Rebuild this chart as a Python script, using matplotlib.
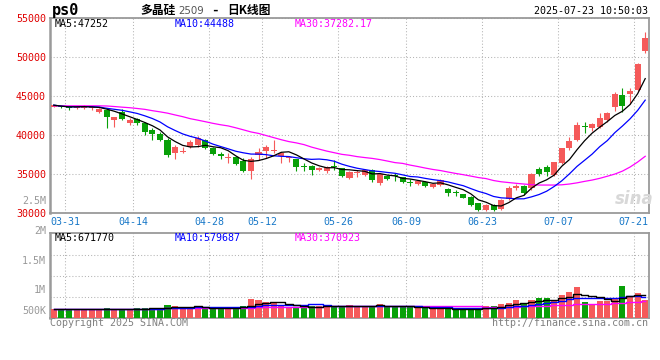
import numpy as np
import pandas as pd
import matplotlib
matplotlib.use('Agg')
import matplotlib.pyplot as plt

plt.rcParams['font.family'] = ['DejaVu Sans Mono', 'Noto Sans CJK SC']

# trading days shown on the chart (03-28 .. 07-23)
holidays = ['2025-04-04', '2025-05-01', '2025-05-02', '2025-05-05', '2025-06-02']
days = pd.bdate_range('2025-03-28', '2025-07-23')
days = days[~days.isin(pd.to_datetime(holidays))]
dates = list(days.strftime('%m-%d'))

opens = [43630, 43760, 43590, 43420, 43420, 43420, 42990, 43200, 41920, 42950,
         41600, 42050, 41500, 40680, 40170, 39360, 37730, 37860, 38420, 38720,
         39360, 38290, 37530, 37090, 37220, 36700, 35420, 37440, 37950, 37990,
         37350, 37010, 36880, 35940, 36030, 35510, 35420, 36060, 35730, 34450,
         35170, 34870, 35510, 33810, 34740, 34870, 34580, 33940, 33720, 34010,
         33290, 33590, 33080, 32650, 32440, 32090, 31240, 30380, 31030, 30510,
         31780, 33170, 33460, 33240, 35640, 35860, 34870, 36370, 38290, 39360,
         41150, 40940, 41060, 41920, 43630, 45130, 45220, 45770, 50810]
closes = [43850, 43590, 43460, 43630, 43760, 43630, 43290, 42350, 42270, 42050,
          41880, 41500, 40420, 40170, 39360, 37440, 38500, 37950, 39140, 39580,
          38290, 37560, 37350, 37220, 36280, 35420, 36880, 37860, 38500, 38080,
          37650, 37220, 35860, 35900, 35510, 35810, 35940, 35940, 34740, 35290,
          35290, 35510, 34230, 35000, 34320, 34740, 33940, 33810, 34140, 33460,
          33720, 34230, 32530, 32530, 31960, 31030, 30380, 31030, 30380, 31670,
          33200, 33460, 32600, 35000, 34960, 35290, 36500, 38290, 39230, 41280,
          41060, 41410, 42140, 42780, 45260, 43760, 45680, 49100, 52470]
highs = [43900, 43800, 43630, 43700, 43850, 43700, 43420, 43330, 42300, 43290,
         42140, 42220, 41700, 40860, 40420, 39580, 38720, 38500, 39360, 39870,
         39500, 38420, 37780, 37730, 37310, 37010, 37140, 38290, 38720, 39360,
         37780, 37310, 36950, 36370, 36100, 35900, 36000, 36790, 35800, 35400,
         35510, 35640, 35600, 35170, 34870, 35170, 34650, 34400, 34300, 34050,
         33800, 34320, 33150, 32950, 32500, 32150, 31300, 31100, 31100, 31800,
         33500, 33700, 33550, 35100, 35900, 36100, 36550, 38400, 39800, 41700,
         41700, 41500, 42900, 42950, 45550, 45990, 45990, 49200, 53240]
lows = [43600, 43500, 43200, 43330, 43380, 43200, 42780, 40860, 41060, 41920,
        41280, 41280, 40000, 39360, 39230, 37220, 36920, 37650, 38290, 38420,
        38170, 37400, 36880, 36450, 36150, 35220, 34320, 36790, 37000, 37650,
        36450, 36580, 35420, 35420, 34870, 35450, 35090, 35510, 34650, 34320,
        34580, 34800, 34000, 33590, 34230, 34100, 33850, 33460, 33590, 33290,
        33200, 33460, 32200, 32180, 31880, 30900, 30250, 30300, 30300, 30400,
        31700, 32900, 32300, 32950, 34800, 34800, 34800, 36300, 38100, 39300,
        40220, 40500, 40900, 41700, 43080, 42910, 44060, 45700, 50550]
# MA30 as drawn (needs history before the window)
ma30 = [43760, 43760, 43760, 43760, 43760, 43760, 43760, 43740, 43670, 43590,
        43520, 43420, 43310, 43140, 42990, 42820, 42590, 42370, 42110, 41920,
        41720, 41510, 41330, 41180, 40940, 40680, 40410, 40220, 39950, 39680,
        39410, 39170, 39000, 38780, 38460, 38200, 37950, 37740, 37530, 37410,
        37240, 37120, 37010, 36860, 36670, 36470, 36370, 36150, 35970, 35770,
        35590, 35450, 35260, 35080, 34920, 34740, 34550, 34420, 34170, 34010,
        33910, 33810, 33720, 33640, 33590, 33590, 33590, 33620, 33720, 33870,
        34060, 34230, 34450, 34720, 35000, 35380, 35900, 36540, 37282]
# volume, thousand lots
volume = [130, 130, 120, 120, 120, 120, 120, 170, 130, 130,
          130, 150, 165, 165, 150, 280, 240, 205, 205, 190,
          140, 175, 190, 190, 140, 240, 516, 477, 398, 398,
          240, 152, 215, 215, 260, 242, 215, 242, 242, 281,
          242, 242, 242, 320, 191, 242, 191, 191, 152, 152,
          152, 152, 125, 125, 125, 125, 152, 242, 242, 320,
          371, 477, 320, 477, 543, 567, 477, 672, 801, 973,
          387, 320, 450, 450, 567, 1024, 645, 738, 477]

tick_dates = ['03-31', '04-14', '04-28', '05-12', '05-26', '06-09', '06-23', '07-07', '07-21']
price_ticks = [30000, 35000, 40000, 45000, 50000, 55000]
vol_labels = ['2.5M', '2M', '1.5M', '1M', '500K']

RED = '#f55a5a'
GREEN = '#08a008'
GRID = '#b4b4b4'
FRAME = '#9a9a9a'

o = np.array(opens)
c = np.array(closes)
x = np.arange(len(dates))
col = np.where(c >= o, RED, GREEN)
ma5 = pd.Series(closes).rolling(5, min_periods=1).mean()
ma10 = pd.Series(closes).rolling(10, min_periods=1).mean()
vol = np.array(volume) * 1000.0
vs = pd.Series(vol)
vma5 = vs.rolling(5, min_periods=1).mean()
vma10 = vs.rolling(10, min_periods=1).mean()
vma30 = vs.rolling(30, min_periods=1).mean()

W, H = 660, 360
fig = plt.figure(figsize=(6.6, 3.6), dpi=100)
ax = fig.add_axes([50 / W, 1 - 213 / H, 599 / W, 194.7 / H])
axv = fig.add_axes([50 / W, 1 - 318.3 / H, 599 / W, 85 / H])

# candles
ax.vlines(x, lows, highs, colors=col, lw=0.8, zorder=3)
ax.bar(x, np.maximum(np.abs(c - o), 120), bottom=np.minimum(o, c), width=0.8,
       color=col, lw=0, zorder=4)
ax.plot(x, ma30, color='#ff00ff', lw=0.9, zorder=5)
ax.plot(x, ma10, color='#0000ff', lw=0.9, zorder=5)
ax.plot(x, ma5, color='black', lw=0.9, zorder=5)
ax.set_xlim(-0.5, len(x) - 0.5)
ax.set_ylim(30000, 55000)

# volume
vlo, vhi = -238000, 3083000
axv.bar(x, vol - vlo, bottom=vlo, width=0.8, color=col, lw=0, zorder=3)
axv.plot(x, vma30, color='#ff00ff', lw=1.0, drawstyle='steps-mid', zorder=4)
axv.plot(x, vma10, color='#0000ff', lw=1.0, drawstyle='steps-mid', zorder=4)
axv.plot(x, vma5, color='black', lw=1.0, drawstyle='steps-mid', zorder=4)
axv.set_xlim(-0.5, len(x) - 0.5)
axv.set_ylim(vlo, vhi)

gx = [dates.index(d) + 0.5 for d in tick_dates]
for a in (ax, axv):
    a.set_xticks(gx)
    a.grid(True, color=GRID, lw=0.75, ls=(0, (1, 2)))
    a.set_axisbelow(True)
    a.tick_params(length=0)
    for s in a.spines.values():
        s.set_color(FRAME)
        s.set_linewidth(1.3)
    a.spines['left'].set_linewidth(1.8)

ax.set_xticklabels(tick_dates, color='#1878c8', fontsize=7.2)
ax.tick_params(axis='x', pad=3)
ax.set_yticks(price_ticks)
ax.set_yticklabels([str(v) for v in price_ticks], color='#e00000', fontsize=7.2)
ax.tick_params(axis='y', pad=3)

axv.set_xticklabels([])
axv.set_yticks(np.linspace(vlo, vhi, 5)[1:-1])
axv.set_yticklabels([])
for lab, ypos in zip(vol_labels, [200.5, 230.7, 261, 290, 310.7]):
    fig.text(46 / W, 1 - ypos / H, lab, color='#999999', fontsize=7.2,
             ha='right', va='center')

def txt(px, py, s, **kw):
    kw.setdefault('fontsize', 7.2)
    kw.setdefault('va', 'center')
    fig.text(px / W, 1 - py / H, s, **kw)

# header
txt(52, 10.5, 'ps0', fontsize=11, fontweight='bold')
txt(140, 10.5, '多晶硅', fontsize=8.5, fontweight='bold', family=['Noto Sans CJK SC'])
txt(178, 11, '2509', fontsize=7.4, color='#555555', family=['DejaVu Sans'])
txt(211, 10.5, '-', fontsize=9, fontweight='bold')
txt(227, 10.5, '日K线图', fontsize=8.5, fontweight='bold', family=['Noto Sans CJK SC'])
txt(648, 11.5, '2025-07-23 10:50:03', ha='right')

txt(55, 24, 'MA5:47252', color='black')
txt(175, 24, 'MA10:44488', color='#0000ff')
txt(295, 24, 'MA30:37282.17', color='#ff00ff')

txt(55, 238.3, 'MA5:671770', color='black')
txt(175, 238.3, 'MA10:579687', color='#0000ff')
txt(295, 238.3, 'MA30:370923', color='#ff00ff')

# watermark
txt(634, 199, 'sina', fontsize=12, color='#d8d8d8', fontweight='bold',
    style='italic', ha='center', family=['DejaVu Sans'])

txt(50, 323.5, 'Copyright 2025 SINA.COM', color='#808080')
txt(648, 323.5, 'http://finance.sina.com.cn', color='#808080', ha='right')

fig.savefig('out.png', dpi=100, facecolor='white')
